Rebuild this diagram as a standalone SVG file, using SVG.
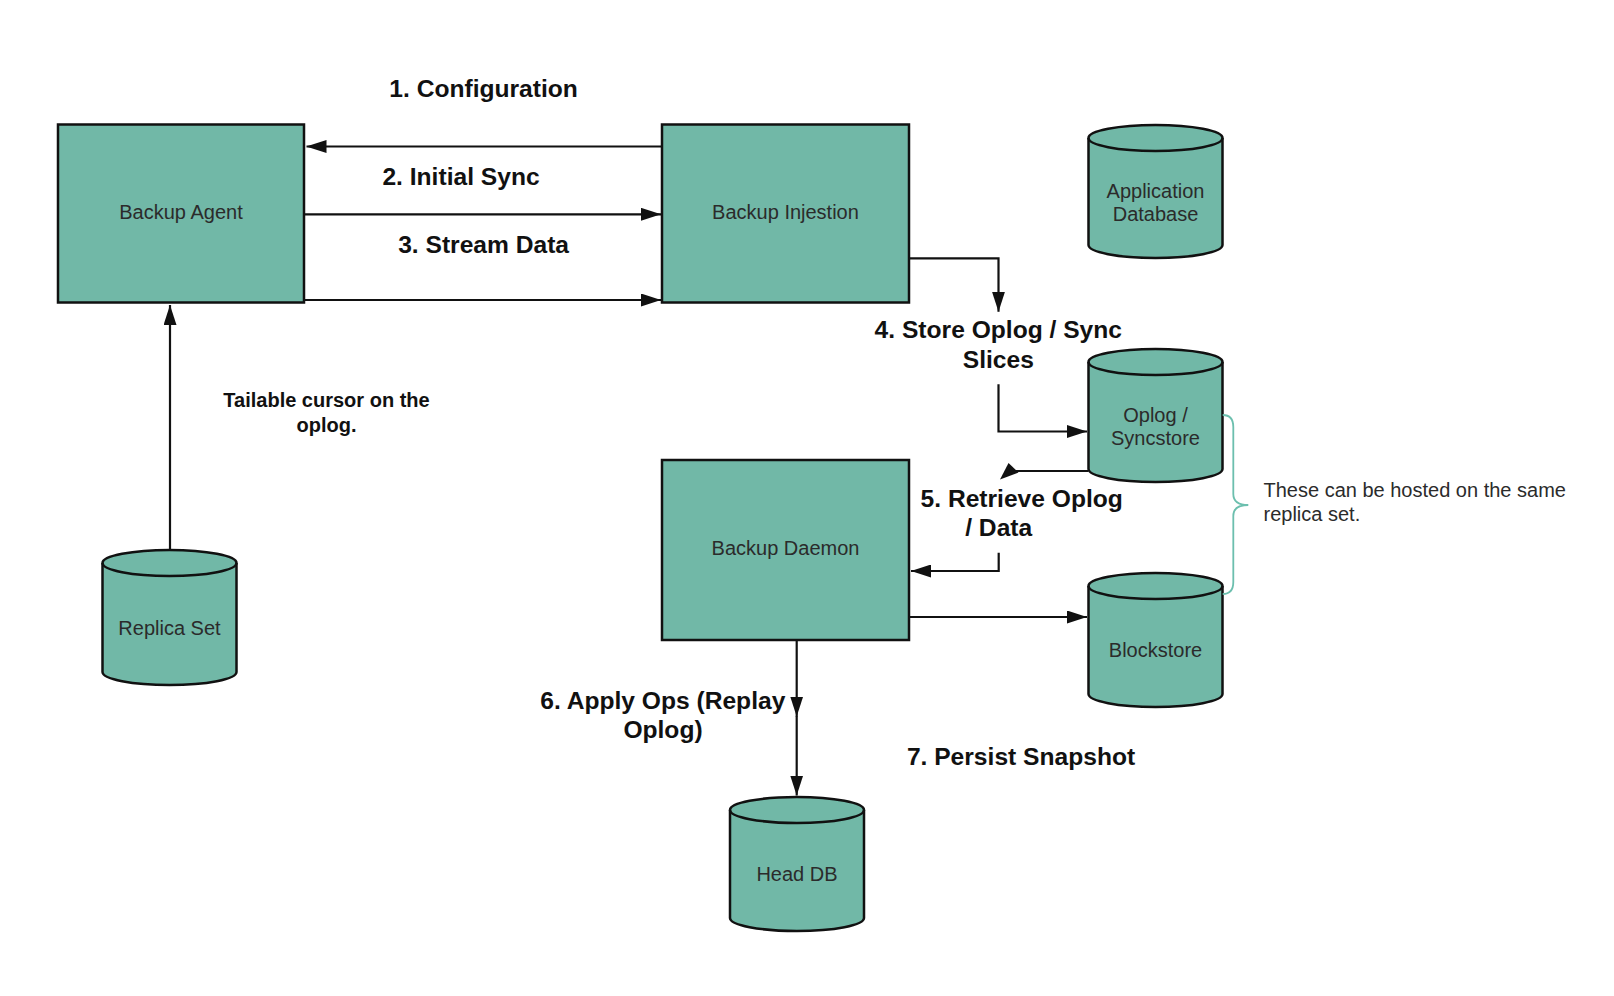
<svg xmlns="http://www.w3.org/2000/svg" width="1614" height="996" viewBox="0 0 1614 996">
<style>
.box{fill:#71b8a7;stroke:#111;stroke-width:2.5}
.cyl{fill:#71b8a7;stroke:#111;stroke-width:2.5}
.lip{fill:none;stroke:#111;stroke-width:2.5}
.ntext{font-family:"Liberation Sans",Arial,sans-serif;font-size:20px;fill:#2b2b2b;text-anchor:middle}
.lbl{font-family:"Liberation Sans",Arial,sans-serif;font-size:24.6px;font-weight:bold;fill:#111;text-anchor:middle}
.small{font-family:"Liberation Sans",Arial,sans-serif;font-size:20px;font-weight:bold;fill:#111;text-anchor:middle}
.note{font-family:"Liberation Sans",Arial,sans-serif;font-size:20px;fill:#2b2b2b}
.con{fill:none;stroke:#111;stroke-width:2.2}
</style>
<defs>
<marker id="arr" markerUnits="userSpaceOnUse" markerWidth="20" markerHeight="13" refX="20" refY="6.5" orient="auto">
<path d="M0,0 L20,6.5 L0,13 Z" fill="#111"/>
</marker>
</defs>
<rect width="1614" height="996" fill="#fff"/>

<g id="backup-agent">
<rect class="box" x="58" y="124.5" width="246" height="178"/>
<text class="ntext" x="181" y="219">Backup Agent</text>
</g>
<g id="backup-injestion">
<rect class="box" x="662" y="124.5" width="247" height="178"/>
<text class="ntext" x="785.5" y="219">Backup Injestion</text>
</g>
<g id="backup-daemon">
<rect class="box" x="662" y="460" width="247" height="180"/>
<text class="ntext" x="785.5" y="555">Backup Daemon</text>
</g>

<g id="application-database">
<path class="cyl" d="M1088.5,138 A67,13 0 0,1 1222.5,138 L1222.5,245 A67,13 0 0,1 1088.5,245 Z"/>
<path class="lip" d="M1088.5,138 A67,13 0 0,0 1222.5,138"/>
<text class="ntext" x="1155.5" y="197.5">Application</text>
<text class="ntext" x="1155.5" y="221">Database</text>
</g>
<g id="oplog-syncstore">
<path class="cyl" d="M1088.5,362 A67,13 0 0,1 1222.5,362 L1222.5,469 A67,13 0 0,1 1088.5,469 Z"/>
<path class="lip" d="M1088.5,362 A67,13 0 0,0 1222.5,362"/>
<text class="ntext" x="1155.5" y="421.5">Oplog /</text>
<text class="ntext" x="1155.5" y="445">Syncstore</text>
</g>
<g id="blockstore">
<path class="cyl" d="M1088.5,586 A67,13 0 0,1 1222.5,586 L1222.5,694 A67,13 0 0,1 1088.5,694 Z"/>
<path class="lip" d="M1088.5,586 A67,13 0 0,0 1222.5,586"/>
<text class="ntext" x="1155.5" y="657">Blockstore</text>
</g>
<g id="head-db">
<path class="cyl" d="M730,810 A67,13 0 0,1 864,810 L864,918 A67,13 0 0,1 730,918 Z"/>
<path class="lip" d="M730,810 A67,13 0 0,0 864,810"/>
<text class="ntext" x="797" y="881">Head DB</text>
</g>
<g id="replica-set">
<path class="cyl" d="M102.5,563 A67,13 0 0,1 236.5,563 L236.5,672 A67,13 0 0,1 102.5,672 Z"/>
<path class="lip" d="M102.5,563 A67,13 0 0,0 236.5,563"/>
<text class="ntext" x="169.5" y="635">Replica Set</text>
</g>

<g id="connectors">
<path class="con" d="M662,146.5 L306.5,146.5" marker-end="url(#arr)"/>
<path class="con" d="M304,214.3 L661,214.3" marker-end="url(#arr)"/>
<path class="con" d="M304,300 L661,300" marker-end="url(#arr)"/>
<path class="con" d="M909,258.3 L998.5,258.3 L998.5,311.7" marker-end="url(#arr)"/>
<path class="con" d="M998.5,384.3 L998.5,431.5 L1087,431.5" marker-end="url(#arr)"/>
<path class="con" d="M1088.5,471 L1012,471"/>
<polygon points="1000,479.5 1008.5,463 1018.5,472.5" fill="#111"/>
<path class="con" d="M998.7,552.7 L998.7,571 L911,571" marker-end="url(#arr)"/>
<path class="con" d="M909,617 L1087,617" marker-end="url(#arr)"/>
<path class="con" d="M796.7,640 L796.7,716.5" marker-end="url(#arr)"/>
<path class="con" d="M796.7,716 L796.7,795.5" marker-end="url(#arr)"/>
<path class="con" d="M170,550 L170,305" marker-end="url(#arr)"/>
<path d="M1222.7,415 Q1233.3,415 1233.3,427 L1233.3,494 Q1233.3,505 1248.3,505 Q1233.3,505 1233.3,516 L1233.3,582 Q1233.3,594 1222.7,594" fill="none" stroke="#6cbfae" stroke-width="1.8"/>
</g>

<g id="labels">
<text class="lbl" x="483.6" y="96.5">1. Configuration</text>
<text class="lbl" x="461" y="184.5">2. Initial Sync</text>
<text class="lbl" x="483.6" y="252.5">3. Stream Data</text>
<text class="lbl" x="998.3" y="338.3">4. Store Oplog / Sync</text>
<text class="lbl" x="998.3" y="368">Slices</text>
<text class="lbl" x="1021.7" y="506.5">5. Retrieve Oplog</text>
<text class="lbl" x="998.7" y="536">/ Data</text>
<text class="lbl" x="662.8" y="708.5">6. Apply Ops (Replay</text>
<text class="lbl" x="663" y="738.3">Oplog)</text>
<text class="lbl" x="1021" y="765">7. Persist Snapshot</text>
<text class="small" x="326.5" y="407">Tailable cursor on the</text>
<text class="small" x="326.5" y="431.5">oplog.</text>
<text class="note" x="1263.5" y="496.5">These can be hosted on the same</text>
<text class="note" x="1263.5" y="520.5">replica set.</text>
</g>
</svg>
